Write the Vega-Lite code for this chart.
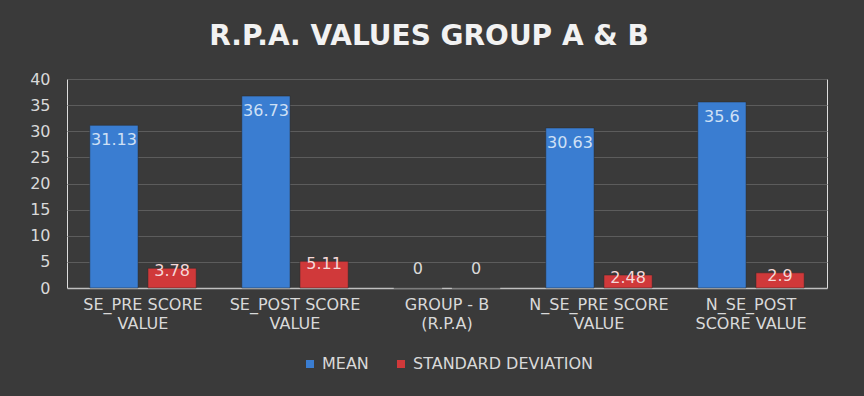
{
  "$schema": "https://vega.github.io/schema/vega-lite/v6.json",
  "autosize": {"type": "fit", "contains": "padding"},
  "width": 864,
  "height": 396,
  "padding": {"left": 29, "top": 23, "right": 37, "bottom": 24},
  "background": "#3a3a3a",
  "title": {
    "text": "R.P.A. VALUES GROUP A & B",
    "font": "DejaVu Sans",
    "fontSize": 28,
    "fontWeight": "bold",
    "color": "#f2f2f2",
    "offset": 20,
    "dx": -18
  },
  "config": {
    "legend": {"layout": {"bottom": {"anchor": "middle"}}}
  },
  "data": {
    "values": [
      {"category": "SE_PRE SCORE VALUE", "series": "MEAN", "value": 31.13},
      {"category": "SE_PRE SCORE VALUE", "series": "STANDARD DEVIATION", "value": 3.78},
      {"category": "SE_POST SCORE VALUE", "series": "MEAN", "value": 36.73},
      {"category": "SE_POST SCORE VALUE", "series": "STANDARD DEVIATION", "value": 5.11},
      {"category": "GROUP - B (R.P.A)", "series": "MEAN", "value": 0},
      {"category": "GROUP - B (R.P.A)", "series": "STANDARD DEVIATION", "value": 0},
      {"category": "N_SE_PRE SCORE VALUE", "series": "MEAN", "value": 30.63},
      {"category": "N_SE_PRE SCORE VALUE", "series": "STANDARD DEVIATION", "value": 2.48},
      {"category": "N_SE_POST SCORE VALUE", "series": "MEAN", "value": 35.6},
      {"category": "N_SE_POST SCORE VALUE", "series": "STANDARD DEVIATION", "value": 2.9}
    ]
  },
  "encoding": {
    "x": {
      "field": "category",
      "type": "nominal",
      "sort": null,
      "scale": {"paddingInner": 0.3, "paddingOuter": 0.15},
      "axis": {
        "title": null,
        "labelAngle": 0,
        "labelFont": "DejaVu Sans",
        "labelFontSize": 16,
        "labelColor": "#d9d9d9",
        "labelPadding": 8,
        "labelLineHeight": 19,
        "labelBaseline": "top",
        "labelExpr": "indexof(datum.label,'N_SE_POST')==0 ? ['N_SE_POST','SCORE VALUE'] : [slice(datum.label,0,lastindexof(datum.label,' ')), slice(datum.label,lastindexof(datum.label,' ')+1)]",
        "ticks": false,
        "domain": true,
        "domainColor": "#bfbfbf",
        "domainWidth": 1.5,
        "grid": false
      }
    },
    "xOffset": {
      "field": "series",
      "type": "nominal",
      "scale": {"paddingInner": 0.17, "paddingOuter": 0}
    },
    "y": {
      "field": "value",
      "type": "quantitative",
      "scale": {"domain": [0, 40]},
      "axis": {
        "title": null,
        "values": [0, 5, 10, 15, 20, 25, 30, 35, 40],
        "labelFont": "DejaVu Sans",
        "labelFontSize": 16,
        "labelColor": "#d9d9d9",
        "labelPadding": 17,
        "ticks": false,
        "domain": false,
        "gridColor": "#5c5c5c",
        "gridWidth": 1
      }
    }
  },
  "layer": [
    {
      "mark": {"type": "bar", "stroke": "#2a2a2a", "strokeWidth": 0.5},
      "encoding": {
        "color": {
          "field": "series",
          "type": "nominal",
          "scale": {"domain": ["MEAN", "STANDARD DEVIATION"], "range": ["#3a7dd1", "#d0393a"]},
          "legend": {
            "title": null,
            "orient": "bottom",
            "direction": "horizontal",
            "symbolType": "square",
            "symbolSize": 64,
            "symbolStrokeWidth": 0,
            "labelFont": "DejaVu Sans",
            "labelFontSize": 16,
            "labelLimit": 400,
            "labelColor": "#d9d9d9",
            "labelOffset": 4,
            "columnPadding": 24,
            "offset": 25
          }
        }
      }
    },
    {
      "transform": [{"filter": "datum.series == 'MEAN' && datum.value > 0"}],
      "mark": {"type": "text", "baseline": "middle", "dy": 15, "font": "DejaVu Sans", "fontSize": 16, "color": "#cfe0f5"},
      "encoding": {"text": {"field": "value", "type": "quantitative"}}
    },
    {
      "transform": [{"filter": "datum.series == 'STANDARD DEVIATION' && datum.value > 0"}],
      "mark": {"type": "text", "baseline": "middle", "dy": 3, "font": "DejaVu Sans", "fontSize": 16, "color": "#f5d8d8"},
      "encoding": {"text": {"field": "value", "type": "quantitative"}}
    },
    {
      "transform": [{"filter": "datum.value == 0"}],
      "mark": {"type": "text", "baseline": "middle", "dy": -19, "font": "DejaVu Sans", "fontSize": 16, "color": "#d9d9d9"},
      "encoding": {"text": {"field": "value", "type": "quantitative"}}
    }
  ]
}
